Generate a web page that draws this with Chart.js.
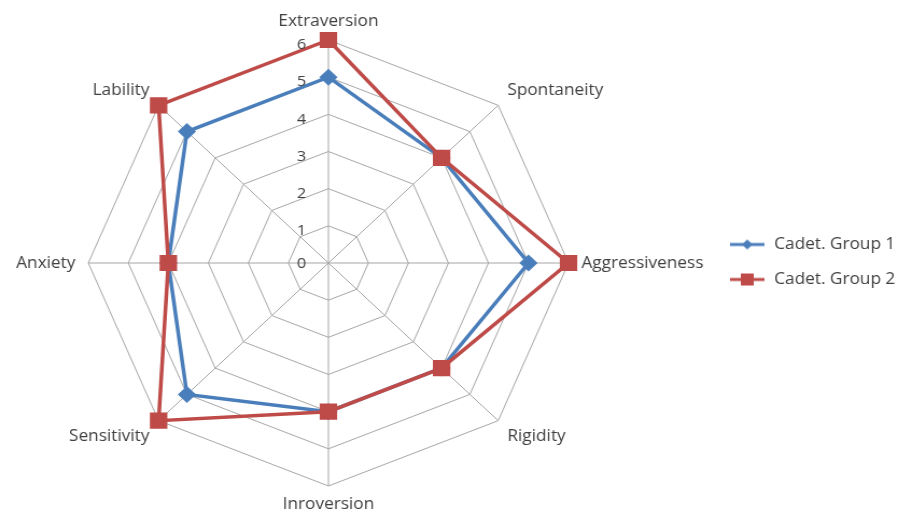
<!DOCTYPE html>
<html>
<head>
<meta charset="utf-8">
<script src="https://cdn.jsdelivr.net/npm/chart.js@4"></script>
<style>
  html, body { margin: 0; padding: 0; background: #fff; }
</style>
</head>
<body>
<canvas id="radar" width="834" height="512" style="display:block;width:898px;height:512px"></canvas>
<script>
const traits = ["Extraversion", "Spontaneity", "Aggressiveness", "Rigidity", "Inroversion", "Sensitivity", "Anxiety", "Lability"];
const group1 = [5, 4, 5, 4, 4, 5, 4, 5];
const group2 = [6, 4, 6, 4, 4, 6, 4, 6];
const tickValues = [0, 1, 2, 3, 4, 5, 6];

const blue = "#4a7ebb";
const red = "#be4b48";
const textColor = "#404040";

// where the web sits inside the canvas (the plot is not centred on its labels)
const webCenterX = 305;
const webCenterY = 263;
const webRadius = 223;

// legend marker: short line with the series marker on it
function legendIcon(color, shape) {
  const c = document.createElement("canvas");
  c.width = 34; c.height = 14;
  const g = c.getContext("2d");
  g.strokeStyle = color; g.lineWidth = 3;
  g.beginPath(); g.moveTo(1, 7); g.lineTo(33, 7); g.stroke();
  g.fillStyle = color;
  if (shape === "square") {
    g.fillRect(11, 1, 12, 12);
  } else {
    g.beginPath(); g.moveTo(17, 2); g.lineTo(22, 7); g.lineTo(17, 12); g.lineTo(12, 7); g.closePath(); g.fill();
  }
  return c;
}

// tick numbers sit left of the vertical axis
const tickText = {
  id: "tickText",
  afterDraw(chart) {
    const s = chart.scales.r;
    const ctx = chart.ctx;
    ctx.save();
    ctx.font = "15px 'Open Sans'";
    ctx.fillStyle = textColor;
    ctx.textAlign = "center";
    ctx.textBaseline = "middle";
    tickValues.forEach((v) => {
      const d = s.getDistanceFromCenterForValue(v);
      ctx.fillText(String(v), s.xCenter - 25, s.yCenter - d + (v === 0 ? 1 : 5));
    });
    ctx.restore();
  }
};

new Chart(document.getElementById("radar"), {
  type: "radar",
  data: {
    labels: traits,
    datasets: [
      {
        label: "Cadet. Group 1",
        data: group1,
        borderColor: blue,
        backgroundColor: blue,
        borderWidth: 3.5,
        fill: false,
        pointStyle: "rectRot",
        pointRadius: 6,
        pointBackgroundColor: blue,
        pointBorderColor: blue,
        order: 1
      },
      {
        label: "Cadet. Group 2",
        data: group2,
        borderColor: red,
        backgroundColor: red,
        borderWidth: 3.5,
        fill: false,
        pointStyle: "rect",
        pointRadius: 9,
        pointBackgroundColor: red,
        pointBorderColor: red,
        order: 0
      }
    ]
  },
  options: {
    responsive: false,
    animation: false,
    layout: { padding: { top: 12, bottom: 0, left: 0, right: 0 } },
    scales: {
      r: {
        min: 0,
        max: 6,
        afterSetDimensions: (scale) => {
          scale.xCenter = webCenterX;
          scale.yCenter = webCenterY;
          scale.drawingArea = webRadius;
        },
        ticks: { stepSize: 1, display: false },
        grid: { color: "#a6a6a6", lineWidth: 1, circular: false },
        angleLines: { color: "#a6a6a6", lineWidth: 1 },
        pointLabels: {
          font: { family: "'Open Sans'", size: 16, lineHeight: 0.85 },
          color: textColor,
          padding: 12
        }
      }
    },
    plugins: {
      tooltip: { enabled: false },
      legend: {
        position: "right",
        maxWidth: 176,
        labels: {
          usePointStyle: true,
          pointStyleWidth: 34,
          padding: 19,
          color: textColor,
          font: { family: "'Open Sans'", size: 16 },
          sort: (a, b) => a.datasetIndex - b.datasetIndex,
          generateLabels: (chart) => chart.data.datasets.map((ds, i) => ({
            text: ds.label,
            datasetIndex: i,
            fontColor: textColor,
            strokeStyle: ds.borderColor,
            fillStyle: ds.borderColor,
            lineWidth: 0,
            pointStyle: legendIcon(ds.borderColor, i === 0 ? "diamond" : "square")
          }))
        }
      }
    }
  },
  plugins: [tickText]
});
</script>
</body>
</html>
